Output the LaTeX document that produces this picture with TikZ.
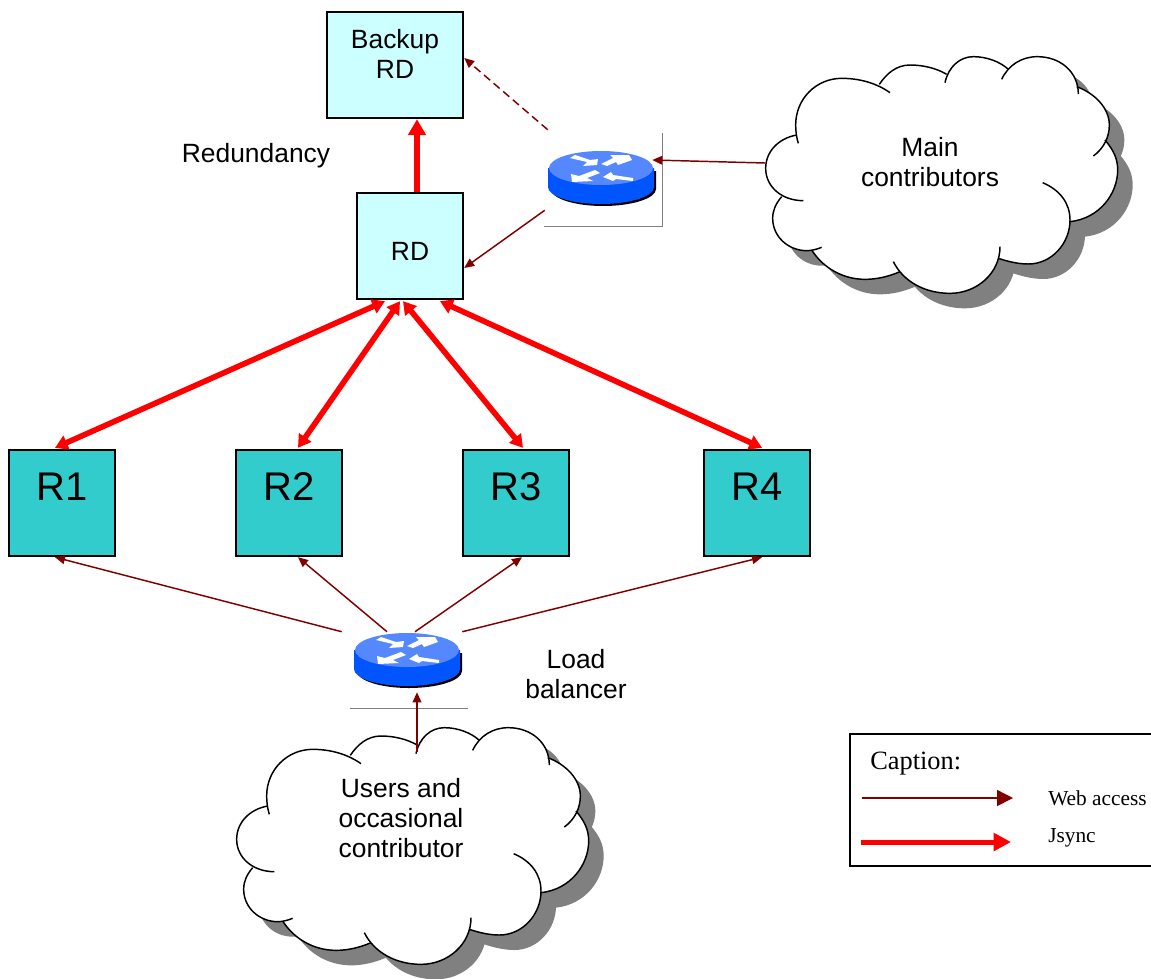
\documentclass[tikz,border=0pt]{standalone}
\usepackage{fontspec}
\setmainfont{Liberation Sans}
\newfontfamily\timesf{Liberation Serif}
\usetikzlibrary{arrows.meta,calc}
\definecolor{webred}{HTML}{800000}
\definecolor{syncred}{HTML}{FF0000}
\definecolor{palecyan}{HTML}{CCFFFF}
\definecolor{tealbox}{HTML}{33CCCC}
\definecolor{routertop}{HTML}{5588FF}
\definecolor{routerside}{HTML}{0055FF}
\definecolor{shadowgrey}{HTML}{808080}
\tikzset{
  x=.75pt,y=-.75pt,
  txt/.style={inner sep=0pt,align=center,font=\fontsize{19.8}{22.5}\selectfont},
  rdbox/.style={draw=black,line width=1.8pt,fill=palecyan,minimum size=79.5pt,inner sep=0pt,font=\fontsize{19.8}{22.5}\selectfont},
  repbox/.style={draw=black,line width=1.8pt,fill=tealbox,minimum size=79.5pt,inner sep=0pt,font=\fontsize{30}{36}\selectfont},
  routerbox/.style={inner sep=0pt,minimum width=78pt,minimum height=40.5pt},
  web/.style={draw=webred,line width=1.1pt,-{Triangle[length=7.5pt,width=6.5pt]}},
  webdash/.style={web,dash pattern=on 6pt off 3.5pt},
  sync/.style={draw=syncred,line width=4.2pt,{Triangle[length=9.5pt,width=11pt]}-{Triangle[length=9.5pt,width=11pt]}},
  synconly/.style={draw=syncred,line width=4.2pt,-{Triangle[length=12pt,width=13pt]}},
  guide/.style={draw=shadowgrey,line width=.6pt},
  lobe/.style={draw=black,line width=1.1pt},
}
\def\lobeA{(960,545) .. controls (1050,535) and (1103,460) .. (1103,390) .. controls (1103,355) and (1090,330) .. (1065,300)}
\def\lobeB{(1030,348) .. controls (1062,325) and (1078,290) .. (1078,255) .. controls (1078,205) and (1035,160) .. (980,140)}
\def\lobeC{(985,162) .. controls (985,95) and (930,50) .. (862,50) .. controls (815,50) and (775,75) .. (755,118)}
\def\lobeD{(775,88) .. controls (750,65) and (710,50) .. (670,50) .. controls (630,50) and (595,80) .. (585,128)}
\def\lobeE{(590,103) .. controls (560,85) and (520,75) .. (480,75) .. controls (440,75) and (410,100) .. (388,133)}
\def\lobeF{(420,158) .. controls (380,130) and (330,115) .. (275,115) .. controls (200,115) and (137,175) .. (137,255) .. controls (137,275) and (140,295) .. (145,310)}
\def\lobeG{(140,285) .. controls (85,295) and (47,335) .. (47,385) .. controls (47,440) and (95,482) .. (160,482)}
\def\lobeH{(95,470) .. controls (78,490) and (68,510) .. (68,535) .. controls (68,590) and (115,632) .. (170,632) .. controls (185,632) and (200,628) .. (215,622)}
\def\lobeI{(185,630) .. controls (220,685) and (280,718) .. (345,718) .. controls (380,718) and (415,710) .. (450,695)}
\def\lobeJ{(430,665) .. controls (460,725) and (525,760) .. (600,760) .. controls (680,760) and (750,700) .. (750,620)}
\def\lobeK{(745,655) .. controls (775,665) and (805,672) .. (835,672) .. controls (905,672) and (960,610) .. (960,540) .. controls (960,490) and (930,450) .. (878,428)}
\def\cloudall{\lobeA \lobeB \lobeC \lobeD \lobeE \lobeF \lobeG \lobeH \lobeI \lobeJ \lobeK
  (960,545) -- (1065,300) -- (980,140) -- (765,85) -- (590,103) -- (388,133) -- (140,285) -- (95,470) -- (185,630) -- (445,697) -- (745,655) -- cycle}
\newcommand{\cloudshape}[2]{%
  \begin{scope}[shift={(#1,#2)},x=.25pt,y=-.25pt]
    \begin{scope}[shift={(45,45)}]
      \fill[shadowgrey] \cloudall;
    \end{scope}
    \fill[white] \cloudall;
    \draw[lobe] \lobeA; \draw[lobe] \lobeB; \draw[lobe] \lobeC; \draw[lobe] \lobeD;
    \draw[lobe] \lobeE; \draw[lobe] \lobeF; \draw[lobe] \lobeG; \draw[lobe] \lobeH;
    \draw[lobe] \lobeI; \draw[lobe] \lobeJ; \draw[lobe] \lobeK;
  \end{scope}}
\newcommand{\routershape}[2]{%
  \begin{scope}[shift={(#1,#2)}]
    \fill[black] (-50,3) -- (-50,21) .. controls (-50,30.4) and (-27,38) .. (2,38) .. controls (31,38) and (55,30.4) .. (55,21) -- (55,3) -- cycle;
    \fill[routerside] (-53,0) -- (-53,19) .. controls (-53,28.4) and (-29.3,36) .. (0,36) .. controls (29.3,36) and (53,28.4) .. (53,19) -- (53,0) -- cycle;
    \fill[routertop] (0,0) ellipse[x radius=52,y radius=17];
    \fill[white] (-31,-10) -- (-26,-13) -- (-11,-8) -- (-3,-9) -- (-4,-3) -- (-18,-2) -- (-14,-6) -- cycle;
    \fill[white] (0,-4) -- (12,-10) -- (9,-13) -- (28,-13) -- (31,-8) -- (17,-3) -- (15,-6) -- (6,-2) -- cycle;
    \fill[white] (-6,2) -- (-1,5) -- (-14,10) -- (-8,13) -- (-29,14) -- (-30,6) -- (-22,8) -- cycle;
    \fill[white] (2,9) -- (10,4) -- (12,7) -- (32,10) -- (32,13) -- (15,11) -- (12,13) -- cycle;
  \end{scope}}
\begin{document}
\begin{tikzpicture}
\useasboundingbox (0,0) rectangle (1151,978);
\fill[white] (0,0) rectangle (1151,978);

% clouds
\cloudshape{750}{40}
\cloudshape{221}{711}
\node[txt] (main) at (930,162) {Main\\contributors};
\node[txt] (users) at (401,818) {Users and\\occasional\\contributor};

% routers
\node[routerbox] (rm) at (601,178) {};
\node[routerbox] (lb) at (407,660) {};
\routershape{601}{168}
\routershape{407}{650}
\draw[guide] ($(rm.east)+(9,-45)$) -- ($(rm.east)+(9,48)$) -- ($(rm.west)+(-5,48)$);
\draw[guide] ($(lb.west)+(-5,48)$) -- ($(lb.east)+(9,48)$);

% boxes
\node[rdbox,minimum width=102pt] (backup) at (395,65) {};
\node[txt] (backuptext) at (395,54) {Backup\\RD};
\node[rdbox] (rd) at (410,246) {\rule{0pt}{21.7pt}RD};
\node[repbox] (R1) at (62,503) {\raisebox{25pt}{R1}};
\node[repbox] (R2) at (289,503) {\raisebox{25pt}{R2}};
\node[repbox] (R3) at (516,503) {\raisebox{25pt}{R3}};
\node[repbox] (R4) at (757,503) {\raisebox{25pt}{R4}};

% labels
\node[txt] (redund) at (256,156) {Redundancy};
\node[txt] (loadb) at (576,674) {Load\\balancer};

% jsync
\draw[synconly] (rd.north -| 417,0) -- (backup.south -| 417,0);
\draw[sync] ($(rd.south)+(-25,1)$) -- ($(R1.north)+(-7,-1)$);
\draw[sync] ($(rd.south)+(-10,1)$) -- ($(R2.north)+(9,-1)$);
\draw[sync] ($(rd.south)+(-7,1)$) -- ($(R3.north)+(7,-1)$);
\draw[sync] ($(rd.south)+(30,1)$) -- ($(R4.north)+(5,-1)$);

% web access
\draw[webdash] ($(rm.north west)+(-1,-21)$) -- ($(backup.east)+(0,-7)$);
\draw[web] ($(rm.south west)+(-4,5)$) -- ($(rd.east)+(0,22)$);
\draw[web] ($(main)+(-165,1)$) -- ($(rm.east)+(-1,-18)$);
\draw[web] ($(lb.north west)+(-13,-1)$) -- ($(R1.south)+(-7,0)$);
\draw[web] ($(lb.north)+(-20,-1)$) -- ($(R2.south)+(9,0)$);
\draw[web] ($(lb.north)+(8,-1)$) -- ($(R3.south)+(6,0)$);
\draw[web] ($(lb.north east)+(3,-1)$) -- ($(R4.south)+(5,0)$);
\draw[web] ($(users)+(16,-66)$) -- ($(lb.south)+(10,5)$);

% caption
\draw[black,line width=1.5pt] (1151,734) -- (850,734) -- (850,866) -- (1151,866);
\node[inner sep=0pt,anchor=west,font=\timesf\fontsize{19.8}{22}\selectfont] (cap) at (870,764) {Caption:};
\coordinate (wa) at (862,798);
\coordinate (wb) at (1013,798);
\coordinate (ja) at (861,842);
\coordinate (jb) at (1011,842);
\draw[draw=webred,line width=1.1pt,-{Triangle[length=12pt,width=12pt]}] (wa) -- (wb);
\draw[draw=syncred,line width=3.75pt,-{Triangle[length=13pt,width=13pt]}] (ja) -- (jb);
\node[inner sep=0pt,anchor=west,font=\timesf\fontsize{16}{18}\selectfont] (weblabel) at (1048,798) {Web access};
\node[inner sep=0pt,anchor=west,font=\timesf\fontsize{16}{18}\selectfont] (jlabel) at (1048,838) {Jsync};
\end{tikzpicture}
\end{document}
